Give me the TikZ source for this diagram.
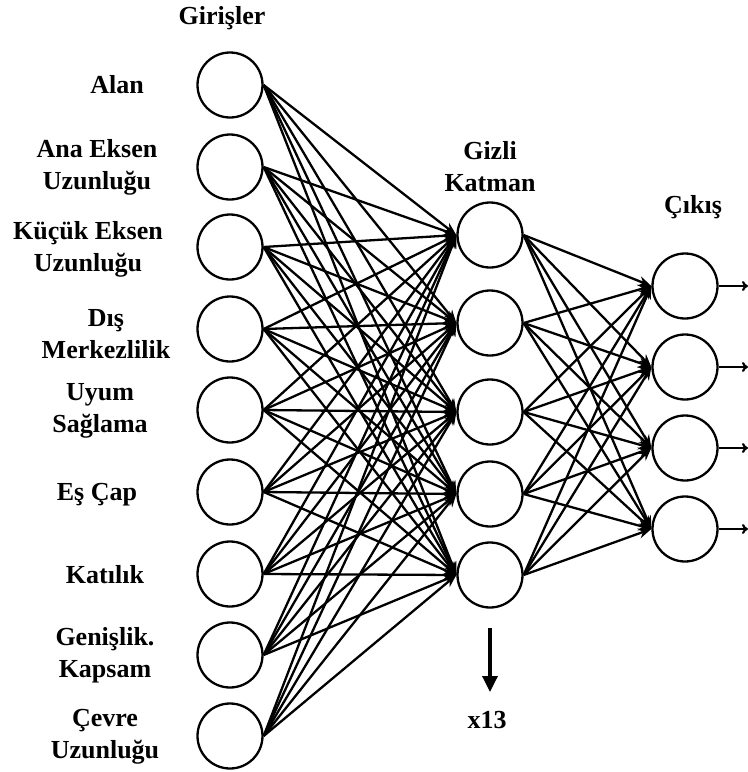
\documentclass[tikz,border=0pt]{standalone}
\usepackage{fontspec}
\setmainfont{Liberation Serif}
\usetikzlibrary{arrows.meta}
\begin{document}
\begin{tikzpicture}[x=0.5pt,y=-0.5pt,
  neuron/.style={circle,draw,line width=1.15pt,minimum size=32.5pt,inner sep=0pt},
  lbl/.style={font=\fontsize{13}{16}\selectfont\bfseries,align=center,inner sep=0pt},
  conn/.style={line width=1.15pt,-{Stealth[length=6.5pt,width=5pt]}},
  outarrow/.style={line width=1.1pt,-{To[length=3pt,width=5pt]}},
  downarrow/.style={line width=1.7pt,-{Triangle[length=8pt,width=7.5pt]}}]
\useasboundingbox (0,0) rectangle (748,772);
% input nodes
\foreach \i/\y in {1/85,2/167,3/247,4/329,5/410,6/492,7/574,8/655,9/736}
  \node[neuron] (in\i) at (230,\y) {};
% hidden nodes
\foreach \j/\y in {1/235,2/323,3/412,4/494,5/575}
  \node[neuron] (h\j) at (490,\y) {};
% output nodes
\foreach \k/\y in {1/286,2/367,3/448,4/529}
  \node[neuron] (o\k) at (685,\y) {};
% connections
\foreach \i in {1,...,9}
  \foreach \j in {1,...,5}
    \draw[conn] (in\i.east) -- (h\j.west);
\foreach \j in {1,...,5}
  \foreach \k in {1,...,4}
    \draw[conn] (h\j.east) -- (o\k.west);
% output arrows
\foreach \k/\y in {1/286,2/367,3/448,4/529}{
  \coordinate (e\k) at (748,\y);
  \draw[outarrow] (o\k.east) -- (e\k);
}
% x13 arrow
\coordinate (xs) at (490,628);
\coordinate (xe) at (490,692);
\draw[downarrow] (xs) -- (xe);
\node[lbl] (x13) at (487,720) {x13};
% titles
\node[lbl] (tin) at (222,18) {Girişler};
\node[lbl] (thid) at (490,167) {Gizli\\Katman};
\node[lbl] (tout) at (693,207) {Çıkış};
% input labels
\node[lbl] (l1) at (117,85) {Alan};
\node[lbl] (l2) at (97,167) {Ana Eksen\\Uzunluğu};
\node[lbl] (l3) at (88,249) {Küçük Eksen\\Uzunluğu};
\node[lbl] (l4) at (106,334) {Dış\\Merkezlilik};
\node[lbl] (l5) at (100,411) {Uyum\\Sağlama};
\node[lbl] (l6) at (97,495) {Eş Çap};
\node[lbl] (l7) at (105,575) {Katılık};
\node[lbl] (l8) at (105,655) {Genişlik.\\Kapsam};
\node[lbl] (l9) at (105,737) {Çevre\\Uzunluğu};
\end{tikzpicture}
\end{document}
